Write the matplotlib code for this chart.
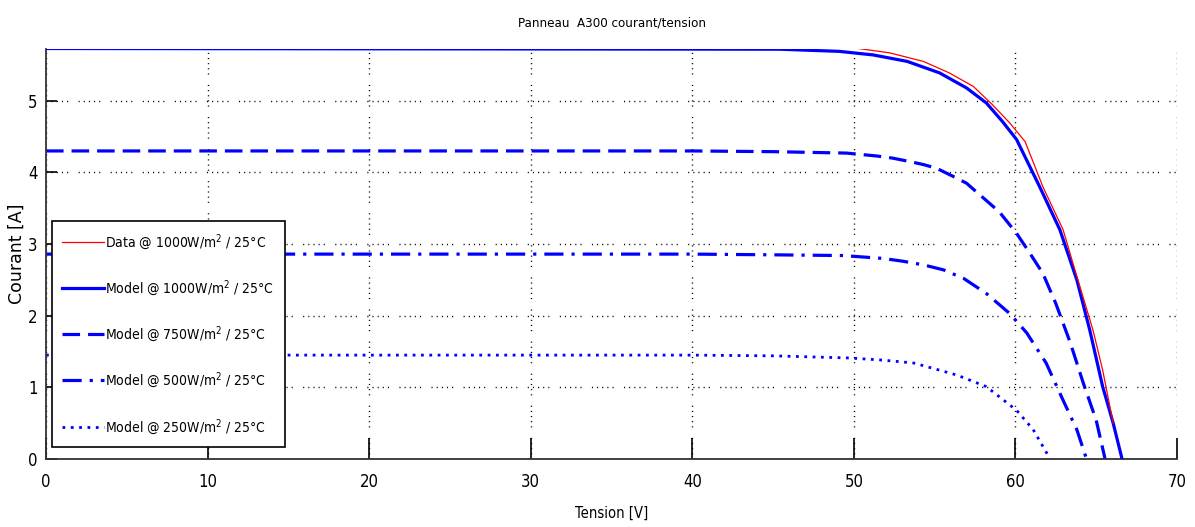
import numpy as np
import matplotlib.pyplot as plt

v_data = [49.96, 52.2, 54.3, 55.9, 57.4, 58.6, 59.65, 60.6, 61.7, 62.95, 63.8, 64.8, 65.4, 66.05]
i_data = [5.74, 5.67, 5.55, 5.39, 5.20, 4.94, 4.69, 4.43, 3.80, 3.20, 2.55, 1.80, 1.24, 0.50]

v_1000 = [0, 45.4, 49.1, 51.2, 53.3, 55.3, 56.97, 58.2, 59.2, 60.07, 61.5, 62.75,
          63.8, 64.6, 65.4, 66.05, 66.6]
i_1000 = [5.73, 5.72, 5.69, 5.64, 5.55, 5.39, 5.18, 4.97, 4.71, 4.46, 3.80, 3.20,
          2.50, 1.80, 1.01, 0.50, 0.0]

v_750 = [0, 40.0, 45.0, 49.55, 51.4, 52.4, 53.5, 54.3, 55.1, 56.1, 56.97, 59.0, 60.07,
         60.9, 61.7, 62.5, 63.4, 64.2, 65.0, 65.55]
i_750 = [4.30, 4.30, 4.29, 4.27, 4.23, 4.20, 4.15, 4.11, 4.06, 3.95, 3.85, 3.45, 3.15,
         2.87, 2.59, 2.17, 1.62, 1.06, 0.54, 0.0]

v_500 = [0, 40.0, 45.0, 49.3, 51.8, 53.05, 54.3, 55.55, 56.8, 58.2, 59.65, 60.7, 61.9,
         62.95, 63.8, 64.4]
i_500 = [2.86, 2.86, 2.85, 2.84, 2.80, 2.76, 2.71, 2.64, 2.52, 2.31, 2.03, 1.76, 1.34,
         0.82, 0.41, 0.0]

v_250 = [0, 40.0, 45.0, 49.75, 51.8, 53.7, 55.3, 56.4, 58.2, 60.07, 61.1, 62.15]
i_250 = [1.45, 1.45, 1.44, 1.41, 1.38, 1.34, 1.24, 1.17, 1.01, 0.68, 0.41, 0.0]

labels = ['Data @ 1000W/m$^2$ / 25°C',
          'Model @ 1000W/m$^2$ / 25°C',
          'Model @ 750W/m$^2$ / 25°C',
          'Model @ 500W/m$^2$ / 25°C',
          'Model @ 250W/m$^2$ / 25°C']

plt.rcParams['font.family'] = ['DejaVu Sans']
plt.rcParams['font.stretch'] = 'condensed'

fig = plt.figure(figsize=(11.95, 5.27), dpi=100)
ax = fig.add_axes([46/1195, 68/527, 1131/1195, 410.5/527])

ax.plot(v_data, i_data, color='red', lw=0.9, label=labels[0], zorder=4)
ax.plot(v_1000, i_1000, color='blue', lw=2.3, label=labels[1], zorder=3)
ax.plot(v_750, i_750, color='blue', lw=2.3, ls=(0, (5.5, 2.5)), label=labels[2])
ax.plot(v_500, i_500, color='blue', lw=2.3, ls=(0, (6, 2.5, 1, 2.5)), label=labels[3])
ax.plot(v_250, i_250, color='blue', lw=2.0, ls=(0, (1, 2)), label=labels[4])

ax.set_xlim(0, 70)
ax.set_ylim(0, 5.73)
ax.set_xticks(np.arange(0, 71, 10))
ax.set_yticks(np.arange(0, 6, 1))

# grille pointillee facon matlab
grid_ls = (0, (0.8, 2.9, 0.8, 2.9, 0.8, 2.9, 0.8, 2.9, 0.8, 7.5))
ax.grid(True, color='black', lw=1.0, linestyle=grid_ls)

for s in ['top', 'right']:
    ax.spines[s].set_visible(False)
for s in ['left', 'bottom']:
    ax.spines[s].set_linewidth(1.3)
    ax.spines[s].set_color('#333333')

ax.tick_params(axis='x', direction='in', length=15, width=1.2, labelsize=12, pad=10)
ax.tick_params(axis='y', direction='in', length=8, width=1.2, labelsize=12, pad=6)

ax.set_title('Panneau  A300 courant/tension', fontsize=9.5, pad=16)
ax.set_xlabel('Tension [V]', fontsize=10.5, labelpad=11)
ax.set_ylabel('Courant [A]', fontsize=12.5, fontstretch='normal', labelpad=2)

leg = ax.legend(loc='lower left', bbox_to_anchor=(6/1131, 12/410.5), fontsize=10,
                fancybox=False, framealpha=1, edgecolor='black', handlelength=3.0,
                labelspacing=1.9, borderpad=0.75, handletextpad=0.1, borderaxespad=0)
leg.get_frame().set_linewidth(1.2)

fig.savefig('out.png', dpi=100)
